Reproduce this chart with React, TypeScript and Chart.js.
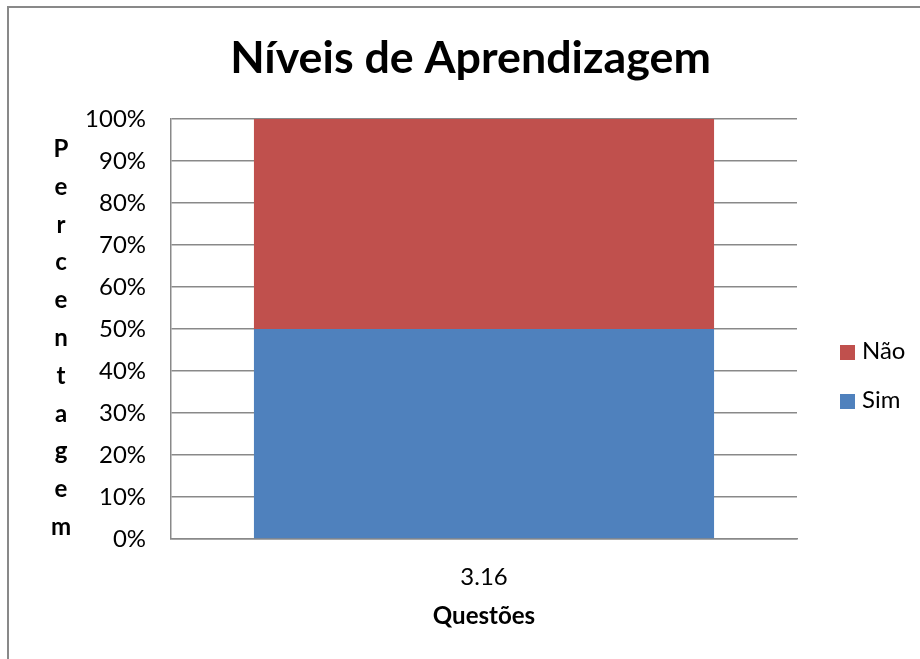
import React, { useEffect, useRef } from 'react';
import { Chart, registerables } from 'chart.js';

Chart.register(...registerables);

// ---- data ----
const categories = ['3.16'];
const simValues = [50];
const naoValues = [50];
const seriesNames = ['Sim', 'Não'];
const seriesColors = ['#4F81BD', '#C0504D'];
const yTickValues = [0, 10, 20, 30, 40, 50, 60, 70, 80, 90, 100];
const chartTitle = 'Níveis de Aprendizagem';
const yTitle = 'Percentagem';
const xTitle = 'Questões';

const FAMILY = 'Lato, "Open Sans", sans-serif';
const GRID = '#898989';

function fitSize(text: string, weight: string, target: number): number {
  const c = document.createElement('canvas').getContext('2d')!;
  c.font = `${weight} 100px ${FAMILY}`;
  const m = c.measureText(text);
  const ink = (m.actualBoundingBoxLeft || 0) + (m.actualBoundingBoxRight || m.width);
  return (100 * target) / ink;
}

export default function App() {
  const ref = useRef<HTMLCanvasElement | null>(null);

  useEffect(() => {
    if (!ref.current) return;
    const titleSize = fitSize(chartTitle, 'bold', 475);
    const tickSize = fitSize('100%', 'normal', 58);
    const axisSize = fitSize(xTitle, 'bold', 101);

    const overlay = {
      id: 'overlay',
      afterDraw(chart: any) {
        const ctx = chart.ctx as CanvasRenderingContext2D;
        ctx.save();
        ctx.fillStyle = '#000';
        ctx.textBaseline = 'alphabetic';
        // chart title
        ctx.font = `bold ${titleSize}px ${FAMILY}`;
        ctx.textAlign = 'center';
        ctx.fillText(chartTitle, 462.5, 65);
        // vertical y-axis title (stacked letters)
        ctx.font = `bold ${axisSize}px ${FAMILY}`;
        yTitle.split('').forEach((ch, i) => {
          ctx.fillText(ch, 53, 149 + i * 37.8);
        });
        // legend (reversed order)
        ctx.textAlign = 'left';
        ctx.font = `normal ${tickSize}px ${FAMILY}`;
        const items = chart.data.datasets
          .map((d: any) => ({ label: d.label, color: d.backgroundColor }))
          .reverse();
        items.forEach((it: any, i: number) => {
          const base = 351 + i * 49;
          ctx.fillStyle = it.color;
          ctx.fillRect(832, base - 14, 15, 15);
          ctx.fillStyle = '#000';
          ctx.fillText(it.label, 854, base);
        });
        ctx.restore();
      },
    };

    const chart = new Chart(ref.current, {
      type: 'bar',
      data: {
        labels: categories,
        datasets: [
          {
            label: seriesNames[0],
            data: simValues,
            backgroundColor: seriesColors[0],
            barPercentage: 0.735,
            categoryPercentage: 1,
          },
          {
            label: seriesNames[1],
            data: naoValues,
            backgroundColor: seriesColors[1],
            barPercentage: 0.735,
            categoryPercentage: 1,
          },
        ],
      },
      options: {
        animation: false,
        responsive: false,
        maintainAspectRatio: false,
        layout: { padding: { top: 111, right: 123, bottom: 0, left: 0 } },
        plugins: {
          legend: { display: false },
          title: { display: false },
          tooltip: { enabled: false },
        },
        scales: {
          x: {
            stacked: true,
            grid: { display: false, drawTicks: false },
            border: { display: true, color: GRID, width: 1.5 },
            ticks: {
              color: '#000',
              font: { family: FAMILY, size: tickSize },
              padding: 24,
            },
            title: {
              display: true,
              text: xTitle,
              color: '#000',
              font: { family: FAMILY, size: axisSize, weight: 'bold', lineHeight: 1 },
              padding: { top: 0, bottom: 42.5 - axisSize / 2 },
            },
            afterFit: (s: any) => {
              s.height = 120;
            },
          },
          y: {
            stacked: true,
            min: 0,
            max: 100,
            afterBuildTicks: (s: any) => {
              s.ticks = yTickValues.map((v) => ({ value: v }));
            },
            ticks: {
              color: '#000',
              font: { family: FAMILY, size: tickSize },
              padding: 25,
              callback: (v: any) => `${v}%`,
            },
            grid: { color: GRID, lineWidth: 1.5, drawTicks: false },
            border: { display: true, color: GRID, width: 1.5 },
            afterFit: (s: any) => {
              s.width = 163;
            },
          },
        },
      },
      plugins: [overlay],
    });

    return () => chart.destroy();
  }, []);

  return (
    <div
      style={{
        position: 'fixed',
        left: 0,
        top: 0,
        width: 920,
        height: 659,
        overflow: 'hidden',
        background: '#fff',
      }}
    >
      <div
        style={{
          position: 'absolute',
          left: 7,
          top: 6,
          width: 1000,
          height: 1000,
          border: `2px solid ${GRID}`,
        }}
      />
      <div style={{ position: 'absolute', left: 8, top: 8, width: 912, height: 651 }}>
        <canvas ref={ref} width={912} height={651} style={{ width: 912, height: 651 }} />
      </div>
    </div>
  );
}
